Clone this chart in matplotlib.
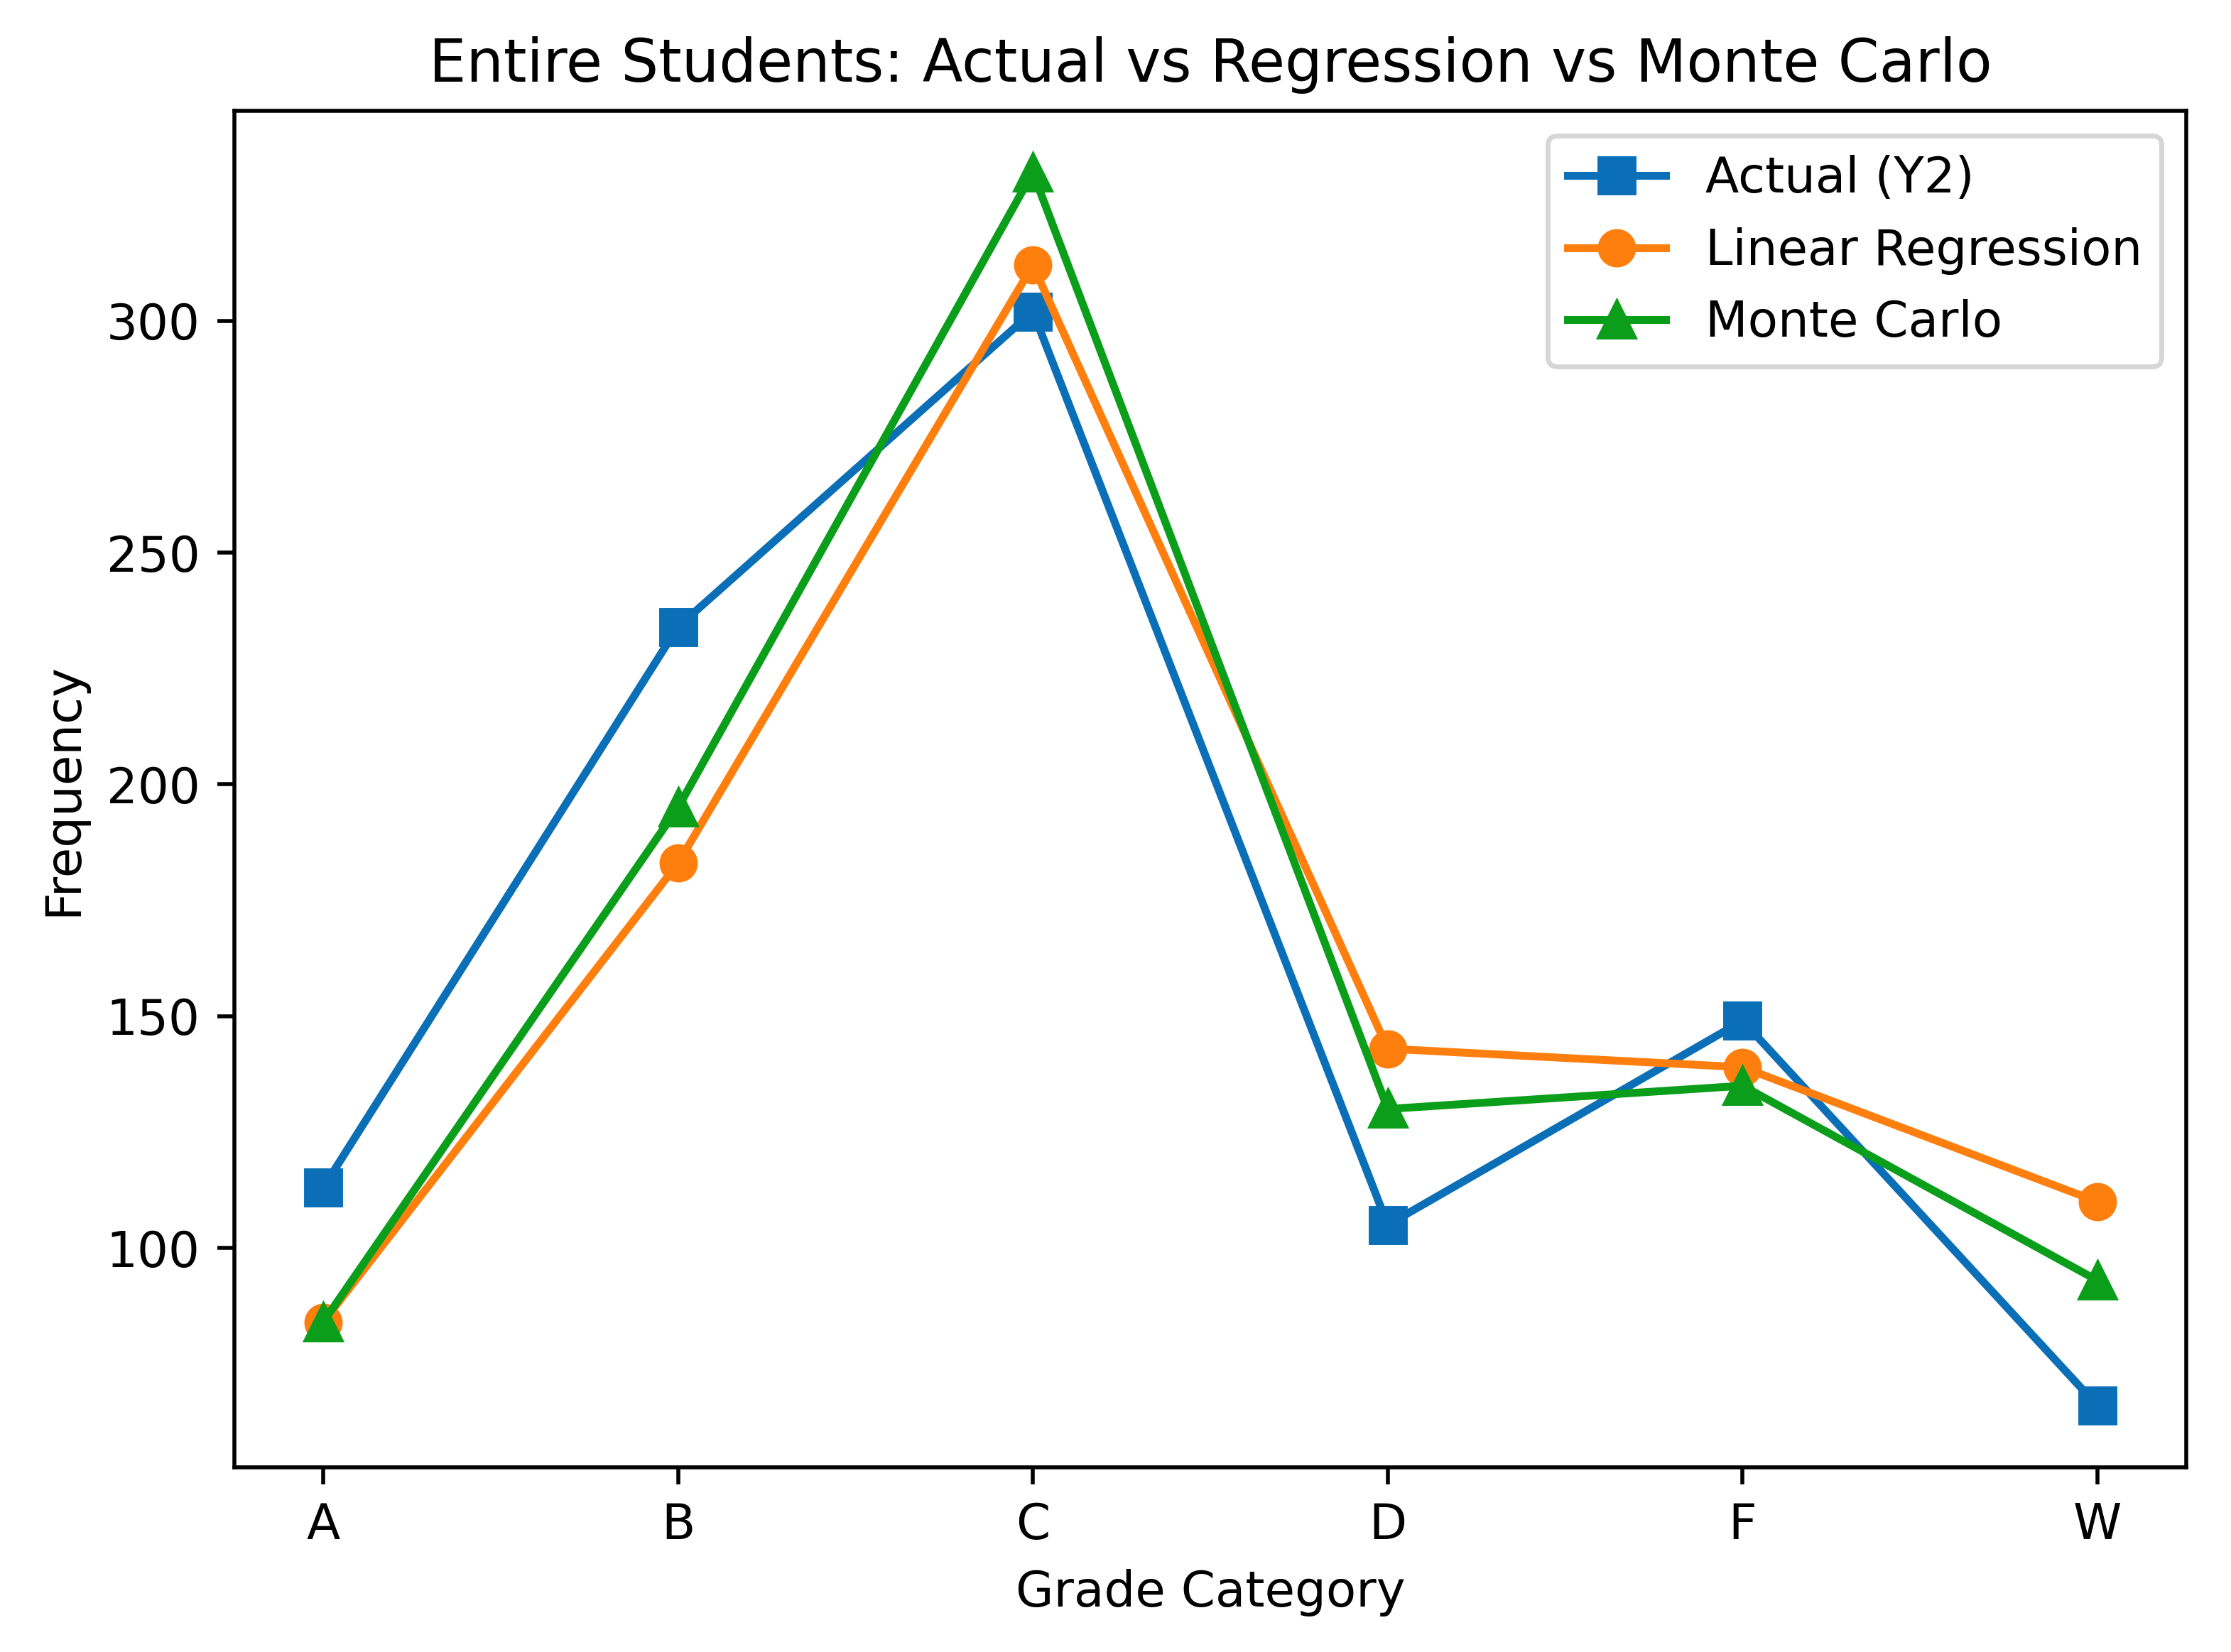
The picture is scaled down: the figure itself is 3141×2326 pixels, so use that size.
import matplotlib
matplotlib.use("Agg")
import matplotlib.pyplot as plt

# --- data ---
grades = ["A", "B", "C", "D", "F", "W"]
actual_y2 = [113, 234, 302, 105, 149, 66]
linear_reg = [84, 183, 312, 143, 139, 110]
monte_carlo = [84, 195, 332, 130, 135, 93]

DPI = 498
fig = plt.figure(figsize=(3141 / DPI, 2326 / DPI), dpi=DPI)
ax = fig.add_axes([330 / 3141, 1 - 2066 / 2326, (3078 - 330) / 3141, (2066 - 156) / 2326])

ax.plot(grades, actual_y2, marker="s", markersize=6.8, linewidth=1.6,
        color="#0a6fb6", label="Actual (Y2)")
ax.plot(grades, linear_reg, marker="o", markersize=6.8, linewidth=1.6,
        color="#ff7f0e", label="Linear Regression")
ax.plot(grades, monte_carlo, marker="^", markersize=6.8, linewidth=1.6,
        color="#0a9e1a", label="Monte Carlo")

ax.set_title("Entire Students: Actual vs Regression vs Monte Carlo", fontsize=12)
ax.set_xlabel("Grade Category")
ax.set_ylabel("Frequency")
ax.legend(loc="upper right")

fig.savefig("out.png", dpi=DPI)
